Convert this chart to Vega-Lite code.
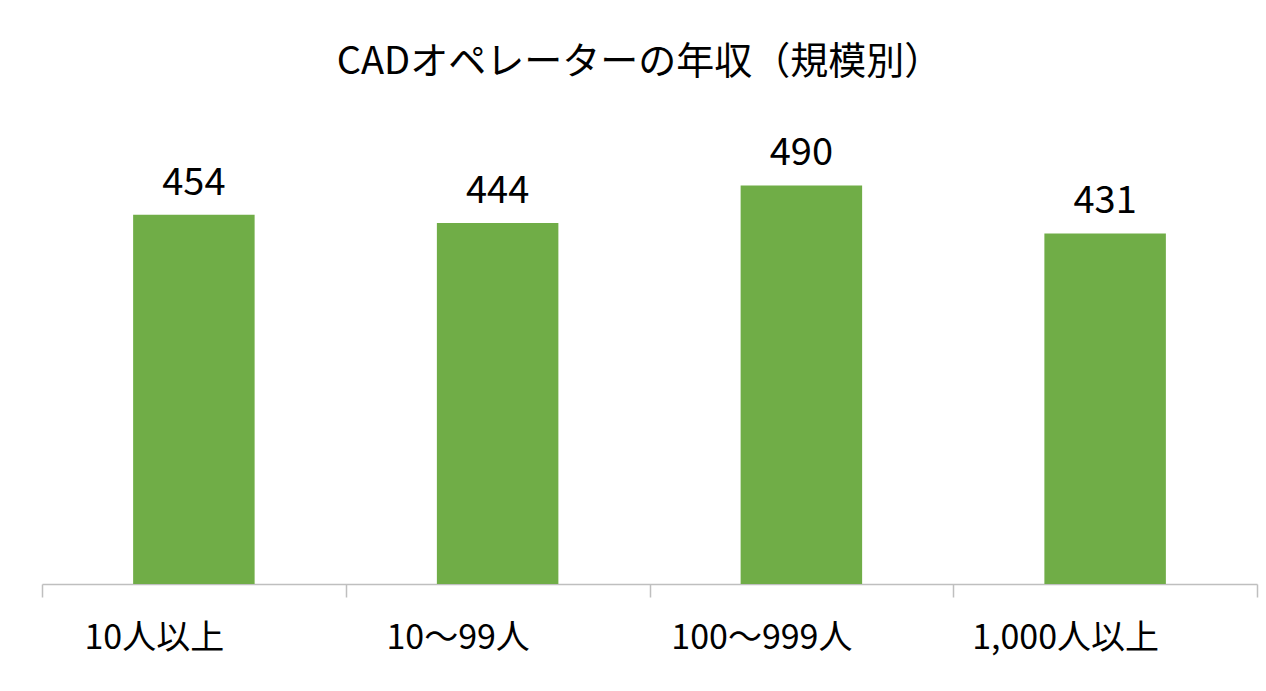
{
  "$schema": "https://vega.github.io/schema/vega-lite/v6.json",
  "autosize": "none",
  "width": 1215,
  "height": 488,
  "padding": {"left": 42, "top": 96, "right": 9, "bottom": 107},
  "background": "#FFFFFF",
  "config": {
    "view": {"stroke": null},
    "font": "Noto Sans CJK JP"
  },
  "title": {
    "text": "CADオペレーターの年収（規模別）",
    "font": "Noto Sans CJK JP",
    "fontSize": 38,
    "fontWeight": "normal",
    "color": "#000000",
    "anchor": "middle",
    "dx": -10,
    "offset": 14
  },
  "data": {
    "values": [
      {"size": "10人以上", "income": 454},
      {"size": "10〜99人", "income": 444},
      {"size": "100〜999人", "income": 490},
      {"size": "1,000人以上", "income": 431}
    ]
  },
  "encoding": {
    "x": {
      "field": "size",
      "type": "nominal",
      "sort": null,
      "title": null,
      "scale": {"paddingInner": 0, "paddingOuter": 0},
      "axis": {
        "labelAngle": 0,
        "labelFontSize": 34,
        "labelColor": "#000000",
        "labelPadding": 24,
        "labelOffset": -40,
        "labelLimit": 0,
        "tickBand": "extent",
        "tickSize": 13,
        "tickColor": "#BFBFBF",
        "domainColor": "#BFBFBF",
        "domainWidth": 1.5,
        "tickWidth": 1.5,
        "labelFont": "Noto Sans CJK JP"
      }
    },
    "y": {
      "field": "income",
      "type": "quantitative",
      "scale": {"domain": [0, 600]},
      "axis": null
    }
  },
  "layer": [
    {"mark": {"type": "bar", "color": "#70AD47", "width": {"band": 0.4}}},
    {
      "mark": {
        "type": "text",
        "baseline": "alphabetic",
        "dy": -20,
        "fontSize": 38,
        "color": "#000000"
      },
      "encoding": {"text": {"field": "income", "type": "quantitative"}}
    }
  ]
}
